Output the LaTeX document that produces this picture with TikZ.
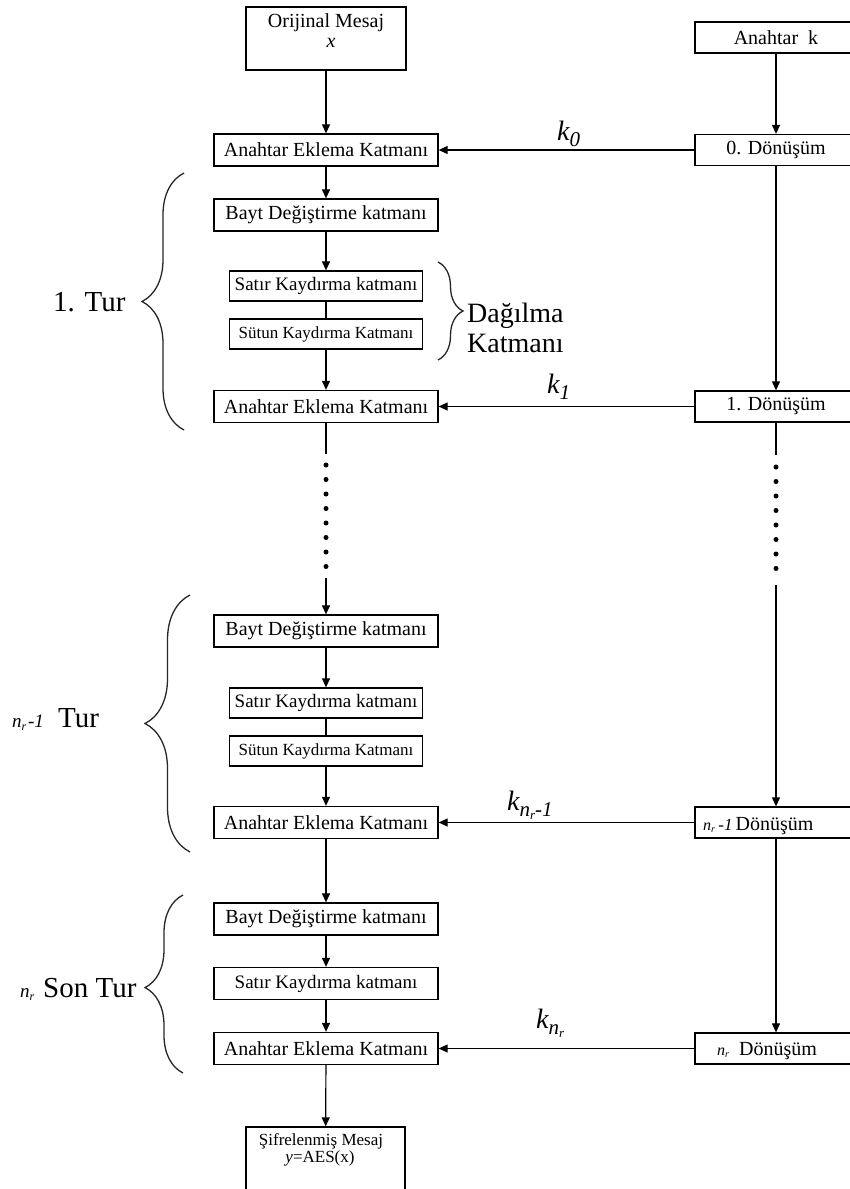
\documentclass[tikz,border=0pt]{standalone}
\usepackage{fontspec}
\setmainfont{Liberation Serif}
\usetikzlibrary{arrows.meta,decorations.pathreplacing}

\newcommand{\fs}[1]{\fontsize{#1}{#1}\selectfont}
% n with a small subscript r (inside boxes, and beside the braces)
\newcommand{\nsubr}{{\fs{16}\itshape n\raisebox{-2.5pt}{\fs{10}r}}}
\newcommand{\nsubrbig}{{\fs{19}\itshape n\raisebox{-3pt}{\fs{12}r}}}
% round key k with a subscript
\newcommand{\rkey}[1]{{\fs{28}\itshape k\raisebox{-6pt}{\fs{21}#1}}}

\begin{document}
\begin{tikzpicture}[x=1pt,y=-1pt,
  box/.style={draw, line width=1.3pt, inner sep=0pt, minimum height=32pt, font=\fs{20}},
  lbox/.style={box, minimum width=224pt},
  sbox/.style={box, minimum width=193pt, minimum height=30pt},
  rbox/.style={box, minimum width=162pt, minimum height=31pt},
  flow/.style={line width=1.2pt, -{Triangle[length=9pt,width=8pt]}},
  link/.style={line width=1.2pt},
  dots/.style={line width=5pt, line cap=round, dash pattern=on 0pt off 14.5pt},
  curly/.style={decorate, line width=1.3pt, draw=black!85},
  lbl/.style={anchor=base west, inner sep=0pt},
]
\useasboundingbox (0,0) rectangle (850,1189);
\clip (0,0) rectangle (850,1189);

% ---- inputs ----
\node[box, minimum width=160pt, minimum height=63pt] (orig) at (326,38.5) {};
\node[anchor=base, inner sep=0pt, font=\fs{20}] (origt) at (326,27) {Orijinal Mesaj};
\node[anchor=base, inner sep=0pt, font=\fs{20}\itshape] (origx) at (331,47) {x};
\node[rbox] (key) at (776,37.5) {Anahtar\ \ k};

% ---- initial key addition ----
\node[lbox] (aek1) at (326,150) {Anahtar Eklema Katmanı};
\node[rbox] (d0) at (776,150) {0. Dönüşüm};

% ---- round 1 ----
\node[lbox] (bayt1) at (326,215) {Bayt Değiştirme katmanı};
\node[sbox, font=\fs{19}] (satir1) at (326,286) {Satır Kaydırma katmanı};
\node[sbox, font=\fs{17}] (sutun1) at (326,334) {Sütun Kaydırma Katmanı};
\node[lbox] (aek2) at (326,406.5) {Anahtar Eklema Katmanı};
\node[rbox] (d1) at (776,406.5) {1. Dönüşüm};

% ---- round n_r - 1 ----
\node[lbox] (bayt2) at (326,631) {Bayt Değiştirme katmanı};
\node[sbox, font=\fs{19}] (satir2) at (326,703) {Satır Kaydırma katmanı};
\node[sbox, font=\fs{17}] (sutun2) at (326,751) {Sütun Kaydırma Katmanı};
\node[lbox] (aek3) at (326,822.5) {Anahtar Eklema Katmanı};
\node[rbox] (d2) at (776,822.5) {};
\node[lbl, font=\fs{20}] (d2t) at (703,830) {\nsubr\,{\fs{17}\itshape -1}\hspace{3pt}Dönüşüm};

% ---- final round ----
\node[lbox] (bayt3) at (326,919) {Bayt Değiştirme katmanı};
\node[lbox, font=\fs{19}] (satir3) at (326,983.5) {Satır Kaydırma katmanı};
\node[lbox] (aek4) at (326,1048.5) {Anahtar Eklema Katmanı};
\node[rbox] (d3) at (776,1048.5) {};
\node[lbl, font=\fs{20}] (d3t) at (717,1055) {\nsubr\hspace{10pt}Dönüşüm};

% ---- output ----
\node[box, minimum width=159pt, minimum height=100pt] (enc) at (325.5,1177) {};
\node[anchor=base, inner sep=0pt, font=\fs{17}] (enct) at (321,1145) {Şifrelenmiş Mesaj};
\node[anchor=base, inner sep=0pt, font=\fs{17}] (ency) at (320,1162) {\textit{y}=AES(x)};

% ---- free ends around the ellipsis ----
\coordinate (lA) at (326,454);
\coordinate (l1) at (326,465);
\coordinate (l2) at (326,567);
\coordinate (lB) at (326,578);
\coordinate (rA) at (776,455);
\coordinate (r1) at (776,467);
\coordinate (r2) at (776,569);
\coordinate (rB) at (776,585);

% ---- data path ----
\draw[flow] (orig) -- (aek1);
\draw[flow] (aek1) -- (bayt1);
\draw[flow] (bayt1) -- (satir1);
\draw[link] (satir1) -- (sutun1);
\draw[flow] (sutun1) -- (aek2);
\draw[link] (aek2) -- (lA);
\draw[dots] (l1) -- (l2);
\draw[flow] (lB) -- (bayt2);
\draw[flow] (bayt2) -- (satir2);
\draw[link] (satir2) -- (sutun2);
\draw[flow] (sutun2) -- (aek3);
\draw[flow] (aek3) -- (bayt3);
\draw[flow] (bayt3) -- (satir3);
\draw[flow] (satir3) -- (aek4);
\draw[flow] (aek4) -- (enc);

% ---- key schedule ----
\draw[flow] (key) -- (d0);
\draw[flow] (d0) -- (d1);
\draw[link] (d1) -- (rA);
\draw[dots] (r1) -- (r2);
\draw[flow] (rB) -- (d2);
\draw[flow] (d2) -- (d3);

% ---- round keys ----
\draw[flow] (d0) -- (aek1);
\draw[flow] (d1) -- (aek2);
\draw[flow] (d2) -- (aek3);
\draw[flow] (d3) -- (aek4);
\node[lbl] (k0) at (557,140) {\rkey{0}};
\node[lbl] (k1) at (547,393) {\rkey{1}};
\node[lbl] (kn1) at (507,810) {\rkey{n\raisebox{-3pt}{\fs{13}r}-1}};
\node[lbl] (kn) at (536,1028) {\rkey{n\raisebox{-3pt}{\fs{13}r}}};

% ---- braces and round names ----
\draw[curly, decoration={brace, amplitude=42pt}] (184,430) -- (184,173);
\draw[curly, decoration={brace, amplitude=25pt}] (438,262) -- (438,360);
\draw[curly, decoration={brace, amplitude=45pt}] (190,852) -- (190,595);
\draw[curly, decoration={brace, amplitude=38pt, aspect=0.48}] (183,1073) -- (183,895);

\node[lbl, font=\fs{29}] (t1) at (53,311) {1. Tur};
\node[lbl, font=\fs{28}] (dg1) at (467,322) {Dağılma};
\node[lbl, font=\fs{28}] (dg2) at (467,352) {Katmanı};
\node[lbl] (t2a) at (12,727) {\nsubrbig\,{\fs{19}\itshape -1}};
\node[lbl, font=\fs{29}] (t2b) at (58,727) {Tur};
\node[lbl] (t3a) at (20,997) {\nsubrbig};
\node[lbl, font=\fs{29}] (t3b) at (43,997) {Son Tur};
\end{tikzpicture}
\end{document}
